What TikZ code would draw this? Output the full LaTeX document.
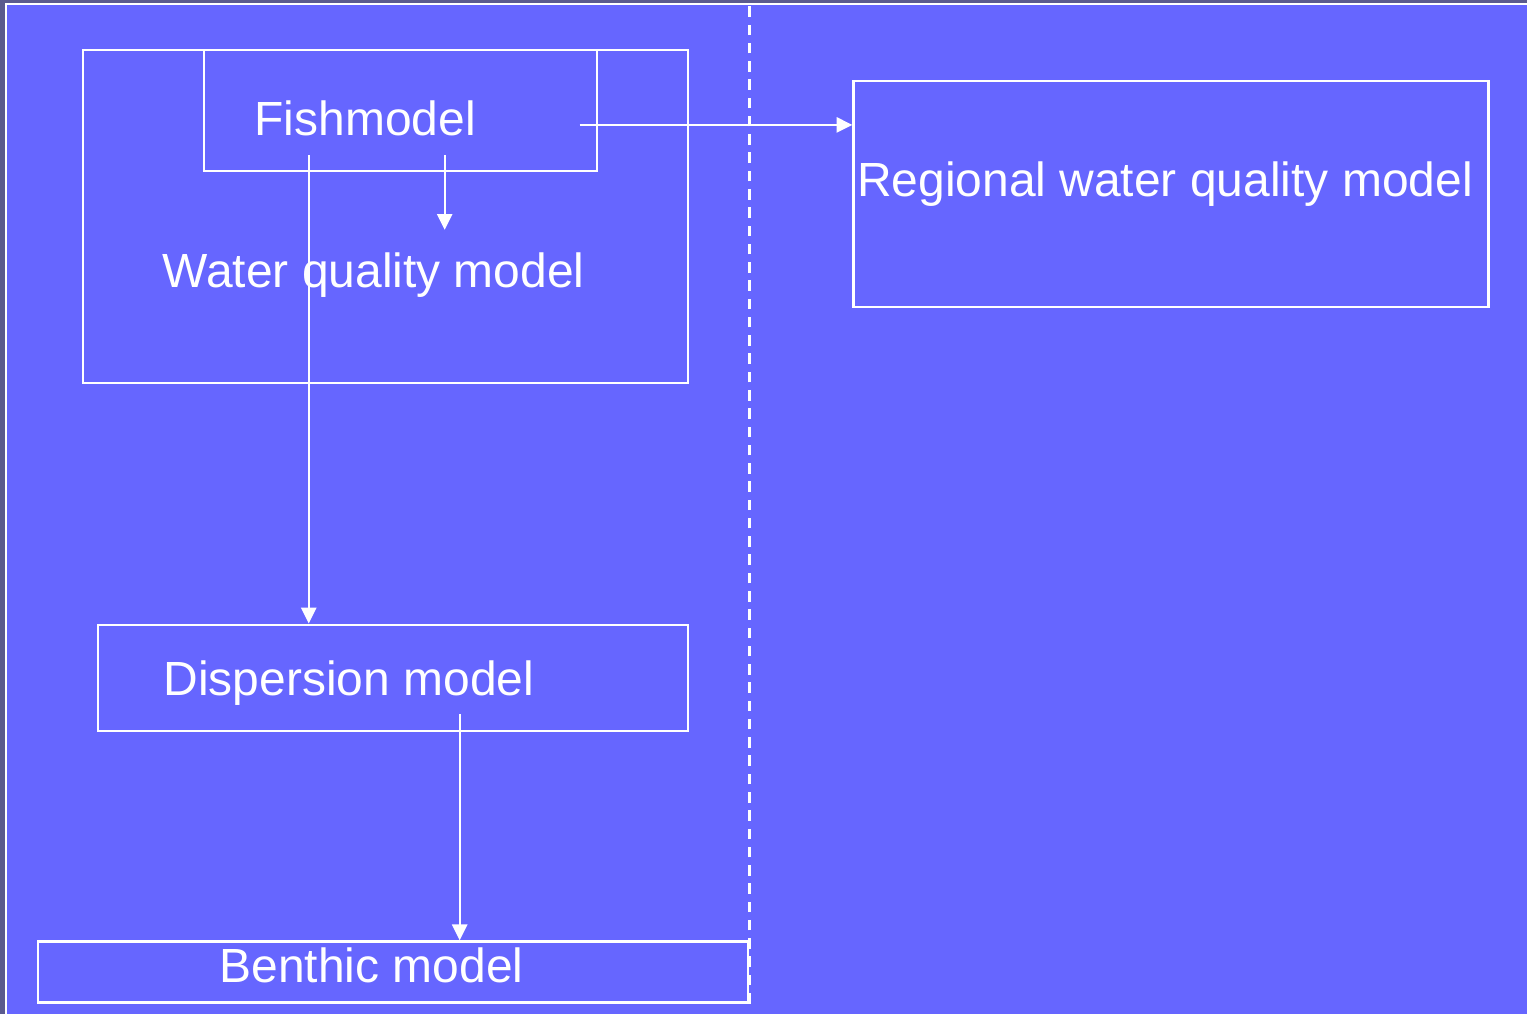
\documentclass[tikz,border=0pt]{standalone}
\usepackage{fontspec}
\setmainfont{Liberation Sans}
\usetikzlibrary{arrows.meta, positioning}
\definecolor{slideblue}{HTML}{6666FF}
\definecolor{slideedge}{HTML}{5B5B8E}

\begin{document}
\begin{tikzpicture}[
  x=0.01cm, y=-0.01cm,
  every node/.style={font=\fontsize{13.65}{16}\selectfont, text=white},
  modelbox/.style={rectangle, draw=white, line width=0.65pt, inner sep=0pt, anchor=north west},
  modellabel/.style={inner sep=0pt, anchor=base west},
  flow/.style={draw=white, line width=0.65pt, -{Triangle[length=4.5pt, width=4.3pt]}},
  divider/.style={draw=white, line width=0.9pt, dash pattern=on 3pt off 2.2pt},
]
% slide background
\fill[slideedge] (0,0) rectangle (1528,1015);
\fill[slideblue] (6,4) rectangle (1528,1015);
\draw[white, line width=0.65pt] (6,1015) -- (6,4) -- (1528,4);
\useasboundingbox (0,0) rectangle (1528,1015);

% boxes
\node[modelbox, minimum width=6.05cm, minimum height=3.33cm] (wq) at (82,49) {};
\node[modelbox, minimum width=3.93cm, minimum height=1.21cm] (fish) at (203,49) {};
\node[modelbox, minimum width=6.35cm, minimum height=2.26cm] (region) at (853,80) {};
\node[modelbox, minimum width=5.90cm, minimum height=1.06cm] (disp) at (97,624) {};
\node[modelbox, minimum width=7.10cm, minimum height=0.61cm] (benthic) at (37,941) {};

% labels
\node[modellabel] (fishlbl) at (254,136) {Fishmodel};
\node[modellabel] (wqlbl) at (162,288) {Water quality model};
\node[modellabel] (regionlbl) at (857,197) {Regional water quality model};
\node[modellabel] (displbl) at (163,696) {Dispersion model};
\node[modellabel] (benthiclbl) at (219,983) {Benthic model};

% divider
\draw[divider] (benthic.south east) -- (benthic.south east |- 0,5);

% flows
\coordinate (fishout) at (580,125);
\coordinate (fishdown) at (445,155);
\coordinate (wqin) at (445,230);
\coordinate (fishdisp) at (309,155);
\coordinate (dispout) at (460,715);
\draw[flow] (fishout) -- (fishout -| region.west);
\draw[flow] (fishdown) -- (wqin);
\draw[flow] (fishdisp) -- (fishdisp |- disp.north);
\draw[flow] (dispout) -- (dispout |- benthic.north);
\end{tikzpicture}
\end{document}
